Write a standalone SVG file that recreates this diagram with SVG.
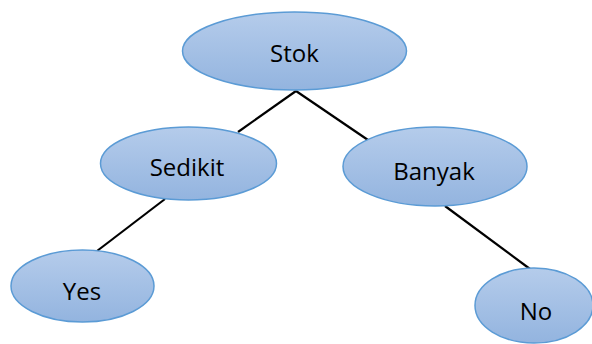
<svg xmlns="http://www.w3.org/2000/svg" width="592" height="344" viewBox="0 0 592 344">
  <defs>
    <linearGradient id="nodeFill" x1="0" y1="0" x2="0" y2="1">
      <stop offset="0" stop-color="#b5cceb"/>
      <stop offset="1" stop-color="#93b4df"/>
    </linearGradient>
  </defs>
  <style>
    .node ellipse { fill: url(#nodeFill); stroke: #5b9bd5; stroke-width: 1.5; }
    .node text { font-family: "Open Sans", "Noto Sans", "Liberation Sans", sans-serif; font-size: 24px; fill: #000; text-anchor: middle; }
    .edges line { stroke: #000; stroke-width: 2.2; }
  </style>
  <rect width="592" height="344" fill="#fff"/>
  <g class="edges">
    <line x1="296" y1="91" x2="238" y2="132"/>
    <line x1="296" y1="91" x2="368" y2="140"/>
    <line x1="165" y1="199" x2="97" y2="251"/>
    <line x1="445" y1="206" x2="530" y2="269"/>
  </g>
  <g id="stok" class="node">
    <ellipse cx="294.5" cy="51" rx="112" ry="39"/>
    <text x="294.5" y="62">Stok</text>
  </g>
  <g id="sedikit" class="node">
    <ellipse cx="188.5" cy="163.5" rx="88" ry="36.5"/>
    <text x="187" y="176">Sedikit</text>
  </g>
  <g id="banyak" class="node">
    <ellipse cx="435" cy="166.5" rx="92" ry="39.5"/>
    <text x="434" y="180">Banyak</text>
  </g>
  <g id="yes" class="node">
    <ellipse cx="82.5" cy="286" rx="71.5" ry="36"/>
    <text x="82" y="300">Yes</text>
  </g>
  <g id="no" class="node">
    <ellipse cx="534" cy="305.5" rx="59" ry="37.5"/>
    <text x="536" y="320">No</text>
  </g>
</svg>
